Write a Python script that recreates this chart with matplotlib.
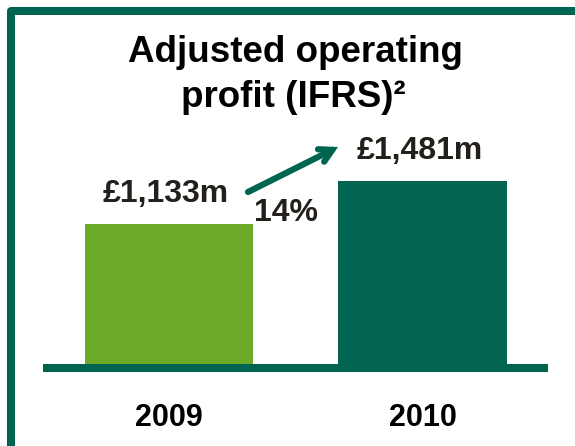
import matplotlib
matplotlib.use("Agg")
import matplotlib.pyplot as plt
from matplotlib.lines import Line2D

plt.rcParams['font.family'] = ['Liberation Sans', 'DejaVu Sans']

# ---- data ----
years = ["2009", "2010"]
values = [1133, 1481]
value_labels = ["£1,133m", "£1,481m"]
growth_label = "14%"
title_lines = ["Adjusted operating", "profit (IFRS)²"]

# ---- style ----
light_green = "#6DAA27"
dark_green = "#006450"
label_color = "#231F1A"
bar_colors = [light_green, dark_green]

W, H = 575, 446
fig = plt.figure(figsize=(W / 100, H / 100), dpi=100)
fig.patch.set_facecolor("white")

# axes placement (pixels from top-left)
ax_left, ax_right = 42.7, 547.7
ax_bottom_px, ax_top_px = 366, 20
ax = fig.add_axes([ax_left / W, (H - ax_bottom_px) / H,
                   (ax_right - ax_left) / W, (ax_bottom_px - ax_top_px) / H])
px_per_unit = (366 - 181) / 1481.0
ax.set_ylim(0, (ax_bottom_px - ax_top_px) / px_per_unit)
ax.set_xlim(-0.498, 1.494)
ax.axis("off")

x = list(range(len(years)))
ax.bar(x, values, width=0.663, color=bar_colors, zorder=2)

# baseline
ax.axhline(-2 / px_per_unit, xmin=0, xmax=1, color=dark_green,
           linewidth=8 * 0.72, clip_on=False, zorder=3, solid_capstyle="butt")

# value labels
for xi, v, lab in zip(x, values, value_labels):
    ax.annotate(lab, xy=(xi, v), xytext=(-3, 22), textcoords="offset pixels",
                ha="center", va="baseline", fontsize=23, fontweight="bold",
                color=label_color)

# year labels
for xi, yr in zip(x, years):
    ax.annotate(yr, xy=(xi, H - 426), xycoords=("data", "figure pixels"),
                ha="center", va="baseline", fontsize=22, fontweight="bold",
                color="black")

# growth arrow and label
fig_ax = fig.add_axes([0, 0, 1, 1], facecolor="none")
fig_ax.set_xlim(0, W)
fig_ax.set_ylim(H, 0)
fig_ax.axis("off")
fig_ax.annotate("", xy=(338, 147), xytext=(248, 192),
                arrowprops=dict(arrowstyle="->,head_length=0.9,head_width=0.5",
                                color=dark_green, lw=4.5,
                                shrinkA=0, shrinkB=0, joinstyle="miter"))
fig_ax.text(286.5, 221, growth_label, ha="center", va="baseline",
            fontsize=23, fontweight="bold", color=label_color)

# title
fig_ax.text(295, 62, title_lines[0], ha="center", va="baseline",
            fontsize=26.5, fontweight="bold", color="black")
fig_ax.text(293, 107, title_lines[1], ha="center", va="baseline",
            fontsize=26.5, fontweight="bold", color="black")

# frame (left + top, rounded corner)
frame = Line2D([11, 11, W + 10], [H + 10, 11, 11], color=dark_green,
               linewidth=8 * 0.72, solid_joinstyle="round")
fig_ax.add_line(frame)

fig.savefig("out.png", dpi=100, facecolor="white")
